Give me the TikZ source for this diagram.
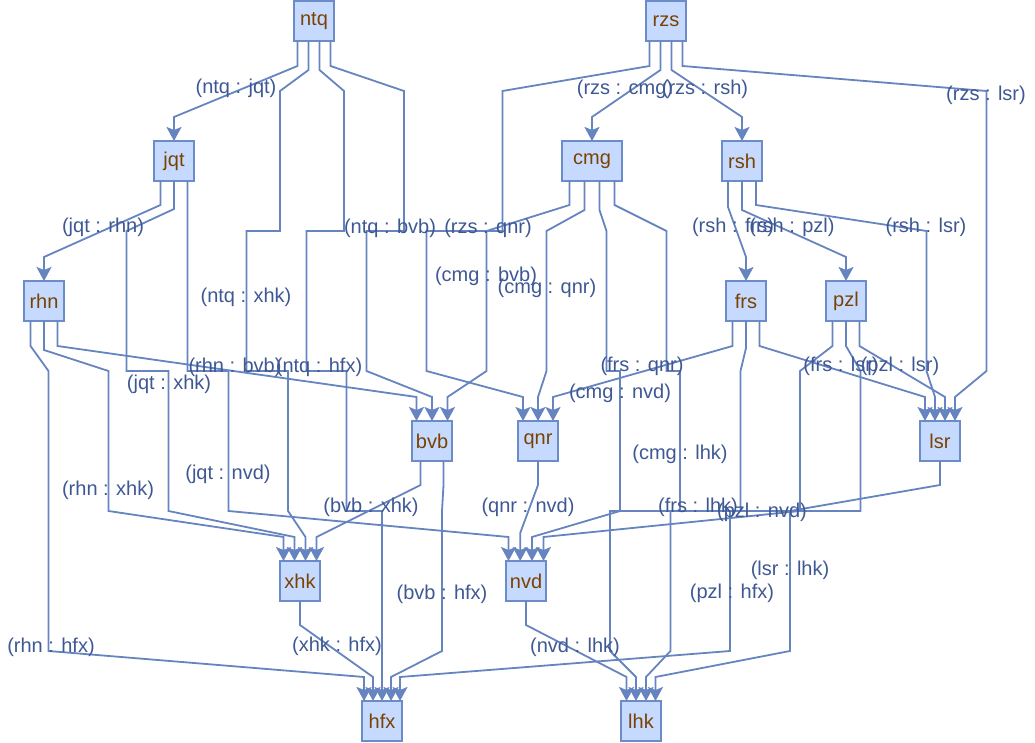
\documentclass[tikz,border=0pt]{standalone}
\usepackage{fontspec}
\setmainfont{Liberation Sans}
\usetikzlibrary{arrows.meta}

\definecolor{boxfill}{RGB}{198,218,255}
\definecolor{boxline}{RGB}{108,140,200}
\definecolor{boxtext}{RGB}{122,66,0}
\definecolor{edgecol}{RGB}{102,132,192}
\definecolor{labelcol}{RGB}{62,88,148}

\tikzset{
  vbox/.style={draw=boxline, fill=boxfill, line width=1.5pt, minimum width=40pt,
    minimum height=40pt, inner sep=2pt, outer sep=0pt, text=boxtext,
    font=\fontsize{20}{24}\selectfont},
  link/.style={draw=edgecol, line width=1.8pt, line join=miter,
    -{Stealth[length=14pt,width=15pt,inset=3pt]}},
  tag/.style={text=labelcol, inner sep=0pt, font=\fontsize{20}{24}\selectfont}
}

\begin{document}
\begin{tikzpicture}[x=1pt,y=-1pt]
\useasboundingbox (0,0) rectangle (1035,743);

% vertices, one row per layer
\node[vbox] (ntq) at (314,21) {ntq};
\node[vbox] (rzs) at (666,21) {rzs};
\node[vbox] (jqt) at (174,161) {jqt};
\node[vbox, minimum width=60pt] (cmg) at (592,161) {cmg};
\node[vbox] (rsh) at (742,161) {rsh};
\node[vbox] (rhn) at (44,301) {rhn};
\node[vbox] (frs) at (746,301) {frs};
\node[vbox] (pzl) at (846,301) {pzl};
\node[vbox] (bvb) at (432,441) {bvb};
\node[vbox] (qnr) at (538,441) {qnr};
\node[vbox] (lsr) at (940,441) {lsr};
\node[vbox] (xhk) at (300,581) {xhk};
\node[vbox] (nvd) at (526,581) {nvd};
\node[vbox] (hfx) at (382,721) {hfx};
\node[vbox] (lhk) at (641,721) {lhk};

% edges out of ntq
\draw[link] ([xshift=-16.5pt]ntq.south) -- (297.5,66) -- (174,117) -- (jqt.north);
\draw[link] ([xshift=-5.5pt]ntq.south) -- (308.5,70) -- (280,91) -- (280,231) -- (246.5,231)
  -- (246.5,371) -- (288,371) -- (288,511) -- (305.5,537) -- ([xshift=5.5pt]xhk.north);
\draw[link] ([xshift=5.5pt]ntq.south) -- (319.5,70) -- (344,91) -- (344,231) -- (306.5,231)
  -- (306.5,371) -- (346.5,371) -- (346.5,511) -- (382,511) -- (hfx.north);
\draw[link] ([xshift=16.5pt]ntq.south) -- (330.5,66) -- (404,91) -- (404,231) -- (366.5,231)
  -- (366.5,371) -- (432,397) -- (bvb.north);

% edges out of rzs
\draw[link] ([xshift=-16.5pt]rzs.south) -- (649.5,66) -- (502.5,91) -- (502.5,231) -- (426.5,231)
  -- (426.5,371) -- (523,397) -- ([xshift=-15pt]qnr.north);
\draw[link] ([xshift=-5.5pt]rzs.south) -- (660.5,70) -- (592,117) -- (cmg.north);
\draw[link] ([xshift=5.5pt]rzs.south) -- (671.5,70) -- (742,117) -- (rsh.north);
\draw[link] ([xshift=16.5pt]rzs.south) -- (682.5,66) -- (986.5,91) -- (986.5,371)
  -- (955,397) -- ([xshift=15pt]lsr.north);

% edges out of jqt
\draw[link] ([xshift=-13.5pt]jqt.south) -- (160.5,205) -- (44,257) -- (rhn.north);
\draw[link] (jqt.south) -- (174,209) -- (126.5,231) -- (126.5,371) -- (168.5,371)
  -- (168.5,511) -- (294.5,537) -- ([xshift=-5.5pt]xhk.north);
\draw[link] ([xshift=13.5pt]jqt.south) -- (187.5,371) -- (228.5,371) -- (228.5,511)
  -- (508.5,537) -- ([xshift=-17.5pt]nvd.north);

% edges out of cmg
\draw[link] ([xshift=-22.5pt]cmg.south) -- (569.5,205) -- (486.5,231) -- (486.5,371)
  -- (447.5,397) -- ([xshift=15.5pt]bvb.north);
\draw[link] ([xshift=-7.5pt]cmg.south) -- (584.5,210) -- (546.5,231) -- (546.5,371)
  -- (538,397) -- (qnr.north);
\draw[link] ([xshift=7.5pt]cmg.south) -- (599.5,210) -- (606.5,231) -- (606.5,371) -- (620,371)
  -- (620,511) -- (532,537) -- ([xshift=6pt]nvd.north);
\draw[link] ([xshift=22.5pt]cmg.south) -- (614.5,205) -- (666.5,231) -- (666.5,371) -- (680,371)
  -- (680,511) -- (670.5,511) -- (670.5,651) -- (646,677) -- ([xshift=5pt]lhk.north);

% edges out of rsh
\draw[link] ([xshift=-14pt]rsh.south) -- (728,207) -- (746,257) -- (frs.north);
\draw[link] (rsh.south) -- (742,210) -- (846,257) -- (pzl.north);
\draw[link] ([xshift=14pt]rsh.south) -- (756,205) -- (926.5,231) -- (926.5,371)
  -- (935,397) -- ([xshift=-5pt]lsr.north);

% edges out of rhn
\draw[link] ([xshift=-13.5pt]rhn.south) -- (30.5,346) -- (48.5,371) -- (48.5,651)
  -- (364,677) -- ([xshift=-18pt]hfx.north);
\draw[link] (rhn.south) -- (44,350) -- (108.5,371) -- (108.5,511) -- (283.5,537)
  -- ([xshift=-16.5pt]xhk.north);
\draw[link] ([xshift=13.5pt]rhn.south) -- (57.5,346) -- (416.5,397) -- ([xshift=-15.5pt]bvb.north);

% edges out of frs
\draw[link] ([xshift=-13.5pt]frs.south) -- (732.5,346) -- (553,397) -- ([xshift=15pt]qnr.north);
\draw[link] (frs.south) -- (746,348) -- (740.5,371) -- (740.5,511) -- (610,511) -- (610,651)
  -- (636,677) -- ([xshift=-5pt]lhk.north);
\draw[link] ([xshift=13.5pt]frs.south) -- (759.5,346) -- (925,397) -- ([xshift=-15pt]lsr.north);

% edges out of pzl
\draw[link] ([xshift=-13.5pt]pzl.south) -- (832.5,346) -- (800,371) -- (800,511) -- (730,511)
  -- (730,651) -- (400,677) -- ([xshift=18pt]hfx.north);
\draw[link] (pzl.south) -- (846,346) -- (860.5,371) -- (860.5,511) -- (800,511)
  -- (543.5,537) -- ([xshift=17.5pt]nvd.north);
\draw[link] ([xshift=13.5pt]pzl.south) -- (859.5,346) -- (945,397) -- ([xshift=5pt]lsr.north);

% edges out of the third layer
\draw[link] ([xshift=-11.5pt]bvb.south) -- (420.5,485) -- (316.5,537) -- ([xshift=16.5pt]xhk.north);
\draw[link] ([xshift=11.5pt]bvb.south) -- (443.5,485) -- (442,511) -- (442,651) -- (391,677)
  -- ([xshift=9pt]hfx.north);
\draw[link] (qnr.south) -- (538,485) -- (520.2,533) -- ([xshift=-5.8pt]nvd.north);
\draw[link] (lsr.south) -- (940,485) -- (790,511) -- (790,651) -- (655.5,677)
  -- ([xshift=14.5pt]lhk.north);

% edges out of the fourth layer
\draw[link] (xhk.south) -- (300,625) -- (373,677) -- ([xshift=-9pt]hfx.north);
\draw[link] (nvd.south) -- (526,625) -- (626.5,677) -- ([xshift=-14.5pt]lhk.north);

% edge labels
\node[tag] (t1) at (236,88) {(ntq : jqt)};
\node[tag] (t2) at (625,89) {(rzs : cmg)};
\node[tag] (t3) at (705,89) {(rzs : rsh)};
\node[tag] (t4) at (986,95) {(rzs : lsr)};
\node[tag] (t5) at (103,227) {(jqt : rhn)};
\node[tag] (t6) at (390,228) {(ntq : bvb)};
\node[tag] (t7) at (488,228) {(rzs : qnr)};
\node[tag] (t8) at (733,227) {(rsh : frs)};
\node[tag] (t9) at (792,227) {(rsh : pzl)};
\node[tag] (t10) at (926,227) {(rsh : lsr)};
\node[tag] (t11) at (486,276) {(cmg : bvb)};
\node[tag] (t12) at (246,297) {(ntq : xhk)};
\node[tag] (t13) at (547,288) {(cmg : qnr)};
\node[tag] (t14) at (235,367) {(rhn : bvb)};
\node[tag] (t15) at (319,367) {(ntq : hfx)};
\node[tag] (t16) at (169,384) {(jqt : xhk)};
\node[tag] (t17) at (642,366) {(frs : qnr)};
\node[tag] (t18) at (620,393) {(cmg : nvd)};
\node[tag] (t19) at (841,366) {(frs : lsr)};
\node[tag] (t20) at (900,366) {(pzl : lsr)};
\node[tag] (t21) at (228,474) {(jqt : nvd)};
\node[tag] (t22) at (680,454) {(cmg : lhk)};
\node[tag] (t23) at (108,490) {(rhn : xhk)};
\node[tag] (t24) at (371,507) {(bvb : xhk)};
\node[tag] (t25) at (528,507) {(qnr : nvd)};
\node[tag] (t26) at (698,507) {(frs : lhk)};
\node[tag] (t27) at (762,512) {(pzl : nvd)};
\node[tag] (t28) at (790,570) {(lsr : lhk)};
\node[tag] (t29) at (442,594) {(bvb : hfx)};
\node[tag] (t30) at (732,593) {(pzl : hfx)};
\node[tag] (t31) at (51,647) {(rhn : hfx)};
\node[tag] (t32) at (337,646) {(xhk : hfx)};
\node[tag] (t33) at (575,647) {(nvd : lhk)};
\end{tikzpicture}
\end{document}
